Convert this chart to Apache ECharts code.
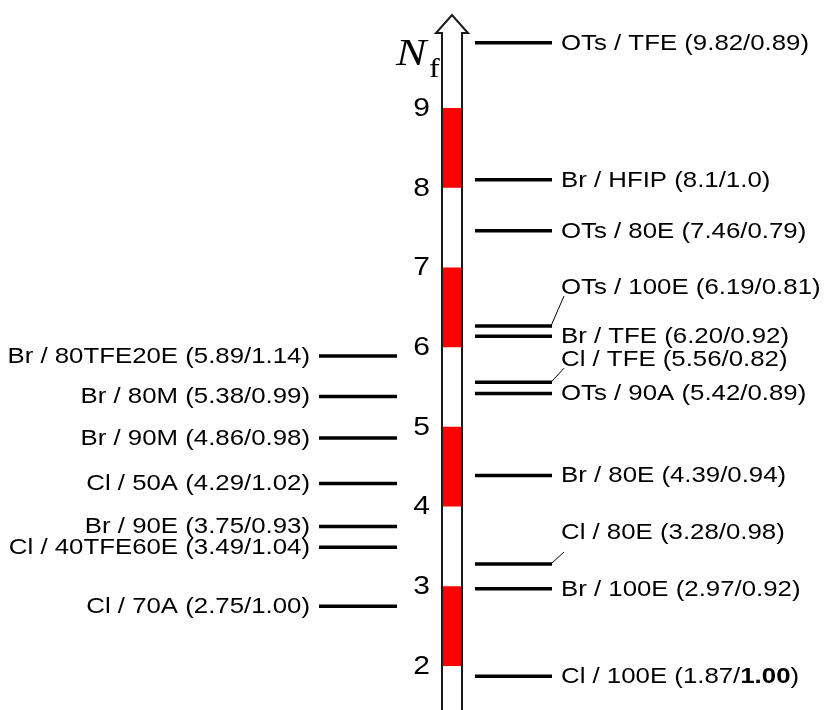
<!DOCTYPE html>
<html>
<head>
<meta charset="utf-8">
<script src="https://cdn.jsdelivr.net/npm/echarts@6/dist/echarts.min.js"></script>
<style>
  html, body { margin: 0; padding: 0; background: #fff; }
  #chart { width: 826px; height: 710px; }
</style>
</head>
<body>
<div id="chart"></div>
<script>
// Nf scale: tick labels and the alternating red bands along the arrow
const tickValues = [2, 3, 4, 5, 6, 7, 8, 9];
const bandRanges = [[2, 3], [4, 5], [6, 7], [8, 9]];

// Entries to the right of the axis: leaving group / solvent, Nf and m as printed
const rightNames = ['OTs / TFE', 'Br / HFIP', 'OTs / 80E', 'OTs / 100E', 'Br / TFE',
                    'Cl / TFE', 'OTs / 90A', 'Br / 80E', 'Cl / 80E', 'Br / 100E', 'Cl / 100E'];
const rightNf = ['9.82', '8.1', '7.46', '6.19', '6.20', '5.56', '5.42', '4.39', '3.28', '2.97', '1.87'];
const rightM  = ['0.89', '1.0', '0.79', '0.81', '0.92', '0.82', '0.89', '0.94', '0.98', '0.92', '1.00'];

// Entries to the left of the axis
const leftNames = ['Br / 80TFE20E', 'Br / 80M', 'Br / 90M', 'Cl / 50A', 'Br / 90E', 'Cl / 40TFE60E', 'Cl / 70A'];
const leftNf = ['5.89', '5.38', '4.86', '4.29', '3.75', '3.49', '2.75'];
const leftM  = ['1.14', '0.99', '0.98', '1.02', '0.93', '1.04', '1.00'];

// ---- layout (pixels) ----
const AXIS = { cx: 452, shaftHalf: 10, headHalf: 16, tipY: 15, headBaseY: 33 };
const RIGHT = { x1: 475, x2: 552, textX: 561 };
const LEFT = { x1: 319, x2: 397, textX: 310 };
const TICK_X = 430;
const SX = 1.2;                        // horizontal text stretch
const FONT = '"Liberation Sans", Arial, Helvetica, sans-serif';
const SERIF = '"Liberation Serif", "Times New Roman", serif';
const LABEL_SIZE = 21.5;
// labels lifted above their line and joined to it by a thin leader: [text lift, leader rise]
const leaderLabels = { 'OTs / 100E': [38, 30], 'Cl / TFE': [22, 14], 'Cl / 80E': [31, 12] };
// small pixel nudge to keep near-coincident lines apart
const lineNudge = { 'OTs / 100E': -6, 'Br / TFE': 5 };
// m values printed in bold
const boldM = { 'Cl / 100E': true };

function labelText(name, nf, m) {
  if (boldM[name]) {
    return '{n|' + name + ' (' + nf + '/}{b|' + m + '}{n|)}';
  }
  return name + ' (' + nf + '/' + m + ')';
}
const richStyles = {
  n: { fontSize: LABEL_SIZE, fontFamily: FONT, fill: '#000' },
  b: { fontSize: LABEL_SIZE, fontFamily: FONT, fontWeight: 'bold', fill: '#000' }
};

function textEl(x, y, text, align, size, family) {
  return {
    type: 'text', x: x, y: y, scaleX: SX, scaleY: 1,
    style: {
      text: text, fill: '#000', fontSize: size, fontFamily: family,
      align: align, verticalAlign: 'middle', rich: richStyles
    }
  };
}

function renderAxis(params, api) {
  const yBottom = api.getHeight() + 10;
  const xl = AXIS.cx - AXIS.shaftHalf, xr = AXIS.cx + AXIS.shaftHalf;
  const outline = [
    [xl, yBottom], [xl, AXIS.headBaseY], [AXIS.cx - AXIS.headHalf, AXIS.headBaseY],
    [AXIS.cx, AXIS.tipY], [AXIS.cx + AXIS.headHalf, AXIS.headBaseY],
    [xr, AXIS.headBaseY], [xr, yBottom]
  ];
  const children = [{ type: 'polygon', shape: { points: outline }, style: { fill: '#fff' } }];
  bandRanges.forEach(function (r) {
    const yTop = api.coord([0, r[1]])[1];
    const yBot = api.coord([0, r[0]])[1];
    children.push({ type: 'rect', shape: { x: xl, y: yTop, width: xr - xl + 1, height: yBot - yTop },
                    style: { fill: '#ff0000' } });
  });
  children.push({ type: 'polyline', shape: { points: outline },
                  style: { stroke: '#1a1a1a', lineWidth: 2, fill: null } });
  // axis title N_f
  children.push({ type: 'text', x: 396, y: 55, scaleX: SX,
                  style: { text: 'N', fontSize: 38, fontFamily: SERIF, fontStyle: 'italic', fill: '#000',
                           align: 'left', verticalAlign: 'middle' } });
  children.push({ type: 'text', x: 429, y: 70, scaleX: SX,
                  style: { text: 'f', fontSize: 27, fontFamily: SERIF, fill: '#000',
                           align: 'left', verticalAlign: 'middle' } });
  return { type: 'group', children: children };
}

function renderTick(params, api) {
  const y = api.coord([0, api.value(1)])[1];
  return textEl(TICK_X, y + 1, String(api.value(1)), 'right', 25, FONT);
}

function renderRight(params, api) {
  const i = params.dataIndex;
  const name = rightNames[i];
  const y = api.coord([0, api.value(1)])[1] + (lineNudge[name] || 0);
  const children = [{ type: 'line', shape: { x1: RIGHT.x1, y1: y, x2: RIGHT.x2, y2: y },
                      style: { stroke: '#000', lineWidth: 3.5 } }];
  const lead = leaderLabels[name];
  let ty = y + 1;
  if (lead) {
    ty = y - lead[0];
    children.push({ type: 'line', shape: { x1: RIGHT.x2 - 1, y1: y, x2: RIGHT.x2 + 12, y2: y - lead[1] },
                    style: { stroke: '#000', lineWidth: 1 } });
  }
  children.push(textEl(RIGHT.textX, ty, labelText(name, rightNf[i], rightM[i]), 'left', LABEL_SIZE, FONT));
  return { type: 'group', children: children };
}

function renderLeft(params, api) {
  const i = params.dataIndex;
  const name = leftNames[i];
  const y = api.coord([0, api.value(1)])[1];
  return {
    type: 'group',
    children: [
      { type: 'line', shape: { x1: LEFT.x1, y1: y, x2: LEFT.x2, y2: y }, style: { stroke: '#000', lineWidth: 3.5 } },
      textEl(LEFT.textX, y + 1, labelText(name, leftNf[i], leftM[i]), 'right', LABEL_SIZE, FONT)
    ]
  };
}

const chart = echarts.init(document.getElementById('chart'), null, { renderer: 'canvas' });
chart.setOption({
  animation: false,
  backgroundColor: '#fff',
  grid: { left: 0, right: 0, top: 28.29, bottom: 4.14 },
  xAxis: { type: 'value', min: 0, max: 1, show: false },
  yAxis: { type: 'value', min: 1.5, max: 10, show: false },
  series: [
    { type: 'custom', silent: true, renderItem: renderAxis, data: [[0, 9]] },
    { type: 'custom', silent: true, renderItem: renderTick, data: tickValues.map(function (v) { return [0, v]; }) },
    { type: 'custom', silent: true, renderItem: renderRight, data: rightNf.map(function (v) { return [0, Number(v)]; }) },
    { type: 'custom', silent: true, renderItem: renderLeft, data: leftNf.map(function (v) { return [0, Number(v)]; }) }
  ]
});
</script>
</body>
</html>
